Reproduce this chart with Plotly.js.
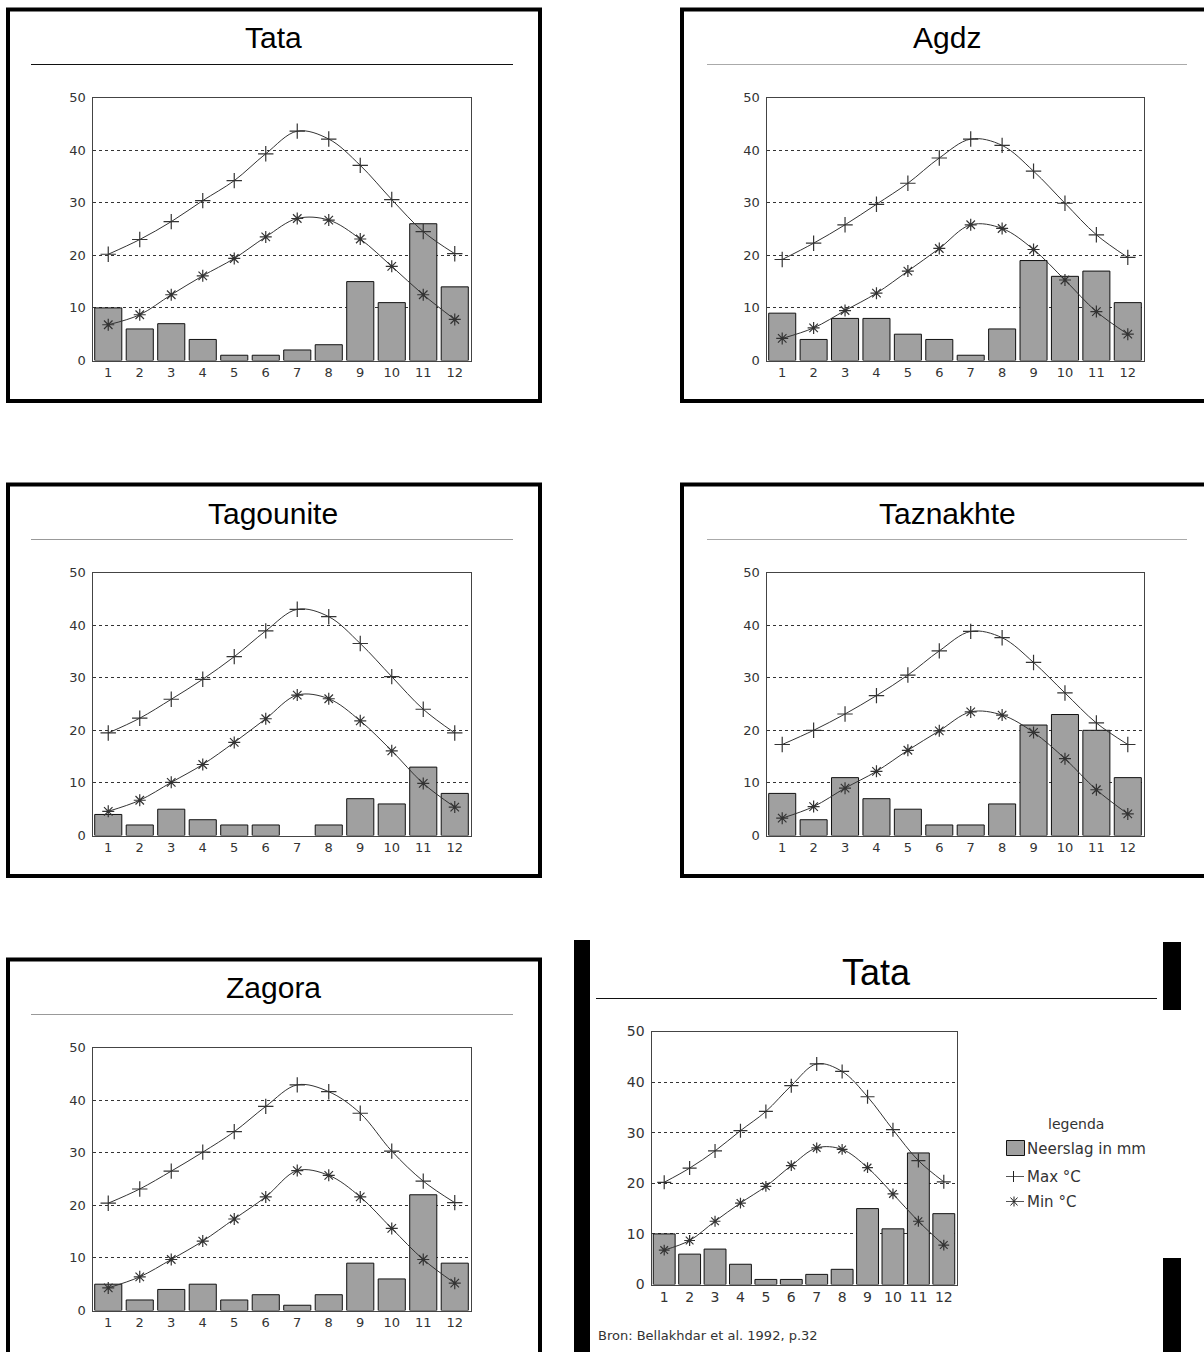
<!DOCTYPE html>
<html>
<head>
<meta charset="utf-8">
<script src="https://cdn.plot.ly/plotly-3.0.1.min.js"></script>
<style>
  html, body { margin: 0; padding: 0; background: #ffffff; }
  #chart { width: 1204px; height: 1352px; }
</style>
</head>
<body>
<div id="chart"></div>
<script>
// ---------- data ----------
const months = [1, 2, 3, 4, 5, 6, 7, 8, 9, 10, 11, 12];
const monthLabels = ['1', '2', '3', '4', '5', '6', '7', '8', '9', '10', '11', '12'];
const yTicks = [0, 10, 20, 30, 40, 50];

const stationNames = ['Tata', 'Agdz', 'Tagounite', 'Taznakhte', 'Zagora', 'Tata'];

const tataPrec = [10, 6, 7, 4, 1, 1, 2, 3, 15, 11, 26, 14];
const tataMax = [20.2, 23.0, 26.4, 30.4, 34.2, 39.3, 43.6, 42.1, 37.1, 30.6, 24.5, 20.3];
const tataMin = [6.8, 8.7, 12.5, 16.1, 19.4, 23.5, 27.0, 26.7, 23.1, 17.9, 12.5, 7.8];

const agdzPrec = [9, 4, 8, 8, 5, 4, 1, 6, 19, 16, 17, 11];
const agdzMax = [19.2, 22.3, 25.8, 29.7, 33.7, 38.5, 42.1, 40.9, 36.0, 29.9, 23.9, 19.6];
const agdzMin = [4.2, 6.2, 9.5, 12.8, 17.0, 21.3, 25.8, 25.1, 21.1, 15.3, 9.3, 5.0];

const tagouPrec = [4, 2, 5, 3, 2, 2, 0, 2, 7, 6, 13, 8];
const tagouMax = [19.5, 22.3, 25.9, 29.7, 34.0, 38.9, 43.0, 41.6, 36.5, 30.2, 24.0, 19.5];
const tagouMin = [4.6, 6.7, 10.1, 13.5, 17.7, 22.2, 26.7, 26.0, 21.8, 16.1, 9.9, 5.4];

const taznPrec = [8, 3, 11, 7, 5, 2, 2, 6, 21, 23, 20, 11];
const taznMax = [17.3, 20.0, 23.1, 26.6, 30.5, 35.1, 38.8, 37.6, 32.9, 27.1, 21.4, 17.3];
const taznMin = [3.3, 5.5, 9.0, 12.2, 16.2, 19.9, 23.5, 22.9, 19.6, 14.6, 8.7, 4.1];

const zagPrec = [5, 2, 4, 5, 2, 3, 1, 3, 9, 6, 22, 9];
const zagMax = [20.4, 23.1, 26.5, 30.1, 34.0, 38.8, 42.9, 41.6, 37.5, 30.3, 24.6, 20.5];
const zagMin = [4.3, 6.4, 9.7, 13.2, 17.4, 21.6, 26.6, 25.7, 21.6, 15.6, 9.7, 5.2];

const legendTitle = 'legenda';
const legendLabels = ['Neerslag in mm', 'Max °C', 'Min °C'];
const sourceText = 'Bron: Bellakhdar et al. 1992, p.32';

// ---------- layout helpers ----------
const W = 1204, H = 1352;
const px = v => v / W;
const py = v => 1 - v / H;

const stations = [
  {prec: tataPrec, max: tataMax, min: tataMin},
  {prec: agdzPrec, max: agdzMax, min: agdzMin},
  {prec: tagouPrec, max: tagouMax, min: tagouMin},
  {prec: taznPrec, max: taznMax, min: taznMin},
  {prec: zagPrec, max: zagMax, min: zagMin},
  {prec: tataPrec, max: tataMax, min: tataMin}
];

// plot areas in pixels [left, right, top, bottom]
const areas = [
  [92.5, 470.5, 97.5, 360.5],
  [766.5, 1143.5, 97.5, 360.5],
  [92.5, 470.5, 572.5, 835.5],
  [766.5, 1143.5, 572.5, 835.5],
  [92.5, 470.5, 1047.5, 1310.5],
  [651.5, 956.5, 1031.5, 1284.5]
];

const traces = [];
const layout = {
  width: W, height: H,
  margin: {l: 0, r: 0, t: 0, b: 0},
  paper_bgcolor: '#ffffff',
  plot_bgcolor: '#ffffff',
  showlegend: false,
  bargap: 0.14,
  font: {family: 'DejaVu Sans, sans-serif', color: '#333'},
  shapes: [],
  annotations: []
};

stations.forEach((s, i) => {
  const n = i + 1;
  const xa = 'x' + (n === 1 ? '' : n);
  const ya = 'y' + (n === 1 ? '' : n);
  const small = (i === 5);
  traces.push({
    type: 'bar', x: months, y: s.prec, xaxis: xa, yaxis: ya,
    marker: {color: '#a0a0a0', line: {color: '#111', width: s.prec.map(v => v > 0 ? 1 : 0)}},
    hoverinfo: 'skip'
  });
  traces.push({
    type: 'scatter', mode: 'lines+markers', x: months, y: s.max, xaxis: xa, yaxis: ya,
    line: {shape: 'spline', smoothing: 1, color: '#333', width: 1},
    marker: {symbol: 'cross-thin-open', size: small ? 10 : 11, line: {color: '#000', width: 1.2}},
    hoverinfo: 'skip'
  });
  traces.push({
    type: 'scatter', mode: 'lines+markers', x: months, y: s.min, xaxis: xa, yaxis: ya,
    line: {shape: 'spline', smoothing: 1, color: '#333', width: 1},
    marker: {symbol: 'asterisk-open', size: small ? 9 : 10, line: {color: '#000', width: 1.2}},
    hoverinfo: 'skip'
  });
  const a = areas[i];
  const axSuffix = (n === 1 ? '' : n);
  layout['xaxis' + axSuffix] = {
    domain: [px(a[0]), px(a[1])],
    anchor: ya,
    range: [0.5, 12.5],
    tickvals: months, ticktext: monthLabels,
    ticks: '', showgrid: false, zeroline: false,
    showline: true, linecolor: '#444', linewidth: 1, mirror: true,
    tickfont: {family: 'DejaVu Sans, sans-serif', size: small ? 14 : 13, color: '#333'},
    fixedrange: true
  };
  layout['yaxis' + axSuffix] = {
    domain: [py(a[3]), py(a[2])],
    anchor: xa,
    range: [0, 50],
    tickvals: yTicks,
    ticks: '', showgrid: true, gridcolor: '#333', griddash: 'dot', gridwidth: 1,
    zeroline: false,
    showline: true, linecolor: '#444', linewidth: 1, mirror: true,
    ticklabelstandoff: 3,
    tickfont: {family: 'DejaVu Sans, sans-serif', size: small ? 14 : 13, color: '#333'},
    fixedrange: true
  };
});

// ---------- frames, titles ----------
const frames = [
  [8, 540, 9.5, 401],
  [682, 1216, 9.5, 401],
  [8, 540, 484.5, 876],
  [682, 1216, 484.5, 876],
  [8, 540, 959.5, 1360]
];
frames.forEach(f => {
  layout.shapes.push({type: 'rect', xref: 'paper', yref: 'paper',
    x0: px(f[0]), x1: px(f[1]), y0: py(f[3]), y1: py(f[2]),
    line: {color: '#000', width: 4}, fillcolor: 'rgba(0,0,0,0)'});
});

// title rules [x0, x1, y, color]
const rules = [
  [31, 513, 64.5, '#111'],
  [707, 1187, 64.5, '#aaa'],
  [31, 513, 539.5, '#999'],
  [707, 1187, 539.5, '#aaa'],
  [31, 513, 1014.5, '#999'],
  [596, 1157, 998.5, '#111']
];
rules.forEach(r => {
  layout.shapes.push({type: 'line', xref: 'paper', yref: 'paper',
    x0: px(r[0]), x1: px(r[1]), y0: py(r[2]), y1: py(r[2]),
    line: {color: r[3], width: 1}});
});

// titles [cx, cy, size]
const titlePos = [
  [273, 38, 30], [947, 38, 30], [273, 513, 30], [947, 513, 30], [273, 988, 30], [876, 972, 36]
];
stationNames.forEach((name, i) => {
  const t = titlePos[i];
  layout.annotations.push({text: name, xref: 'paper', yref: 'paper',
    x: px(t[0]), y: py(t[1]), xanchor: 'center', yanchor: 'middle', showarrow: false,
    font: {family: 'Liberation Sans, Arial, sans-serif', size: t[2], color: '#000'}});
});

// black bars around last panel
[[574, 590, 940, 1352], [1163, 1181, 942, 1010], [1163, 1181, 1258, 1352]].forEach(b => {
  layout.shapes.push({type: 'rect', xref: 'paper', yref: 'paper',
    x0: px(b[0]), x1: px(b[1]), y0: py(b[3]), y1: py(b[2]),
    line: {width: 0}, fillcolor: '#000'});
});

// ---------- legend (custom) ----------
layout.annotations.push({text: legendTitle, xref: 'paper', yref: 'paper',
  x: px(1076), y: py(1124), xanchor: 'center', yanchor: 'middle', showarrow: false,
  font: {family: 'DejaVu Sans, sans-serif', size: 14, color: '#333'}});
// swatch
layout.shapes.push({type: 'rect', xref: 'paper', yref: 'paper',
  x0: px(1006.5), x1: px(1024.5), y0: py(1155.5), y1: py(1140.5),
  line: {color: '#111', width: 1}, fillcolor: '#a0a0a0'});
const legendY = [1149, 1177, 1202];
legendLabels.forEach((lab, i) => {
  layout.annotations.push({text: lab, xref: 'paper', yref: 'paper',
    x: px(1025), y: py(legendY[i]), xanchor: 'left', yanchor: 'middle', showarrow: false,
    font: {family: 'DejaVu Sans, sans-serif', size: 15, color: '#333'}});
});
// max glyph: +
function seg(x0, y0, x1, y1, c) {
  layout.shapes.push({type: 'line', xref: 'paper', yref: 'paper',
    x0: px(x0), x1: px(x1), y0: py(y0), y1: py(y1), line: {color: c || '#222', width: 1}});
}
seg(1006, 1176.5, 1024, 1176.5, '#555');
seg(1013.5, 1171, 1013.5, 1182);
// min glyph: line + asterisk
seg(1006, 1201.5, 1024, 1201.5, '#555');
seg(1010.5, 1197.5, 1017.5, 1205.5);
seg(1017.5, 1197.5, 1010.5, 1205.5);
seg(1014, 1196.5, 1014, 1206.5);

// source
layout.annotations.push({text: sourceText, xref: 'paper', yref: 'paper',
  x: px(596), y: py(1335), xanchor: 'left', yanchor: 'middle', showarrow: false,
  font: {family: 'DejaVu Sans, sans-serif', size: 13, color: '#333'}});

Plotly.newPlot('chart', traces, layout, {staticPlot: true, displayModeBar: false});
</script>
</body>
</html>
